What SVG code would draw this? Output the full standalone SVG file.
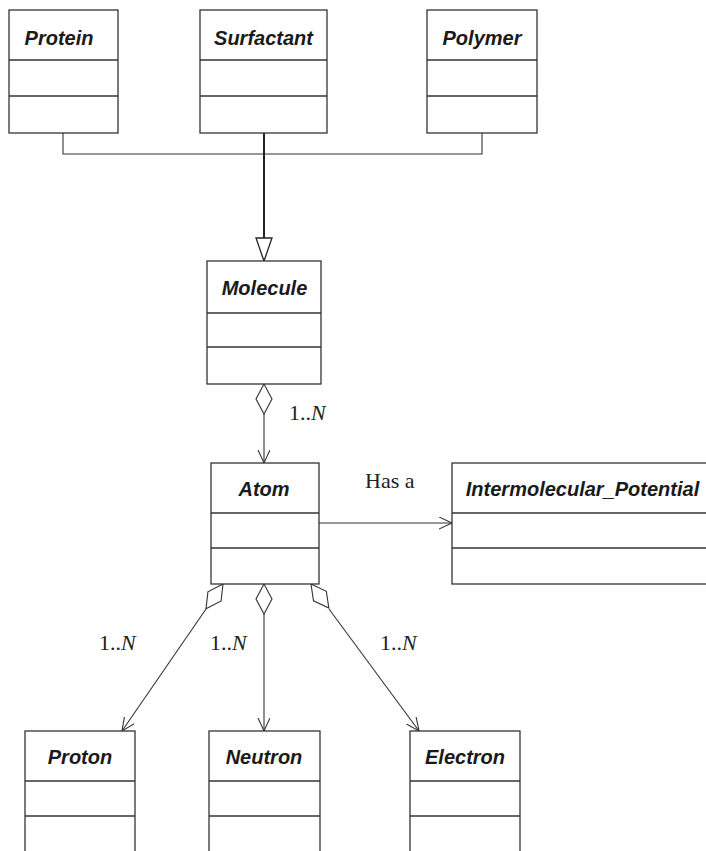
<svg xmlns="http://www.w3.org/2000/svg" width="706" height="851" viewBox="0 0 706 851">
  <style>
    .box { fill: #fff; stroke: #333; stroke-width: 1.3; }
    .div { stroke: #333; stroke-width: 1.3; }
    .name { font-family: "Liberation Sans", Arial, sans-serif; font-weight: bold; font-style: italic; font-size: 20px; fill: #1a1a1a; text-anchor: middle; }
    .lbl { font-family: "Liberation Serif", "Times New Roman", serif; font-size: 22px; fill: #222; }
    .line { stroke: #333; stroke-width: 1.1; fill: none; }
    .thick { stroke: #222; stroke-width: 2; fill: none; }
    .dia { fill: #fff; stroke: #333; stroke-width: 1.1; }
  </style>
  <defs>
    <marker id="open" markerWidth="16" markerHeight="14" refX="13" refY="6" orient="auto" markerUnits="userSpaceOnUse">
      <path d="M0,0 L13,6 L0,12" fill="none" stroke="#333" stroke-width="1.1"/>
    </marker>
    <polygon id="diamond" points="0,0 8,15 0,30 -8,15"/>
  </defs>

  <rect width="706" height="851" fill="#fff"/>

  <!-- connectors -->
  <g id="connectors">
    <!-- generalization: Protein / Surfactant / Polymer to Molecule -->
    <polyline class="line" points="63,133 63,154 482,154 482,133"/>
    <line class="thick" x1="264" y1="133" x2="264" y2="238"/>
    <polygon points="256,238 272,238 264,261" fill="#fff" stroke="#222" stroke-width="1.3"/>

    <!-- Molecule aggregates Atom -->
    <use href="#diamond" class="dia" transform="translate(264,384)"/>
    <line class="line" x1="264" y1="414" x2="264" y2="463" marker-end="url(#open)"/>
    <text class="lbl" x="289" y="420">1..<tspan font-style="italic">N</tspan></text>

    <!-- Atom has an Intermolecular_Potential -->
    <line class="line" x1="319" y1="523" x2="452" y2="523" marker-end="url(#open)"/>
    <text class="lbl" x="365" y="488">Has a</text>

    <!-- Atom aggregates Proton / Neutron / Electron -->
    <use href="#diamond" class="dia" transform="translate(223,584) rotate(34.5)"/>
    <line class="line" x1="206" y1="609" x2="122" y2="731" marker-end="url(#open)"/>
    <text class="lbl" x="99" y="650">1..<tspan font-style="italic">N</tspan></text>

    <use href="#diamond" class="dia" transform="translate(264,584)"/>
    <line class="line" x1="264" y1="614" x2="264" y2="731" marker-end="url(#open)"/>
    <text class="lbl" x="210" y="650">1..<tspan font-style="italic">N</tspan></text>

    <use href="#diamond" class="dia" transform="translate(311,584) rotate(-36.5)"/>
    <line class="line" x1="329" y1="609" x2="419" y2="731" marker-end="url(#open)"/>
    <text class="lbl" x="380" y="650">1..<tspan font-style="italic">N</tspan></text>
  </g>

  <!-- classes -->
  <g id="protein">
    <rect class="box" x="9" y="10" width="109" height="123"/>
    <line class="div" x1="9" y1="60" x2="118" y2="60"/>
    <line class="div" x1="9" y1="96" x2="118" y2="96"/>
    <text class="name" x="59" y="45">Protein</text>
  </g>
  <g id="surfactant">
    <rect class="box" x="200" y="10" width="127" height="123"/>
    <line class="div" x1="200" y1="60" x2="327" y2="60"/>
    <line class="div" x1="200" y1="96" x2="327" y2="96"/>
    <text class="name" x="263.5" y="45">Surfactant</text>
  </g>
  <g id="polymer">
    <rect class="box" x="427" y="10" width="110" height="123"/>
    <line class="div" x1="427" y1="60" x2="537" y2="60"/>
    <line class="div" x1="427" y1="96" x2="537" y2="96"/>
    <text class="name" x="482" y="45">Polymer</text>
  </g>
  <g id="molecule">
    <rect class="box" x="207" y="261" width="114" height="123"/>
    <line class="div" x1="207" y1="313" x2="321" y2="313"/>
    <line class="div" x1="207" y1="347" x2="321" y2="347"/>
    <text class="name" x="264.5" y="295">Molecule</text>
  </g>
  <g id="atom">
    <rect class="box" x="211" y="463" width="108" height="121"/>
    <line class="div" x1="211" y1="513" x2="319" y2="513"/>
    <line class="div" x1="211" y1="548" x2="319" y2="548"/>
    <text class="name" x="264" y="496">Atom</text>
  </g>
  <g id="intermolecular_potential">
    <rect class="box" x="452" y="463" width="262" height="121"/>
    <line class="div" x1="452" y1="513" x2="714" y2="513"/>
    <line class="div" x1="452" y1="548" x2="714" y2="548"/>
    <text class="name" x="582.5" y="496">Intermolecular_Potential</text>
  </g>
  <g id="proton">
    <rect class="box" x="25" y="731" width="110" height="130"/>
    <line class="div" x1="25" y1="781" x2="135" y2="781"/>
    <line class="div" x1="25" y1="816" x2="135" y2="816"/>
    <text class="name" x="80" y="764">Proton</text>
  </g>
  <g id="neutron">
    <rect class="box" x="209" y="731" width="111" height="130"/>
    <line class="div" x1="209" y1="781" x2="320" y2="781"/>
    <line class="div" x1="209" y1="816" x2="320" y2="816"/>
    <text class="name" x="264" y="764">Neutron</text>
  </g>
  <g id="electron">
    <rect class="box" x="410" y="731" width="110" height="130"/>
    <line class="div" x1="410" y1="781" x2="520" y2="781"/>
    <line class="div" x1="410" y1="816" x2="520" y2="816"/>
    <text class="name" x="465" y="764">Electron</text>
  </g>
</svg>
